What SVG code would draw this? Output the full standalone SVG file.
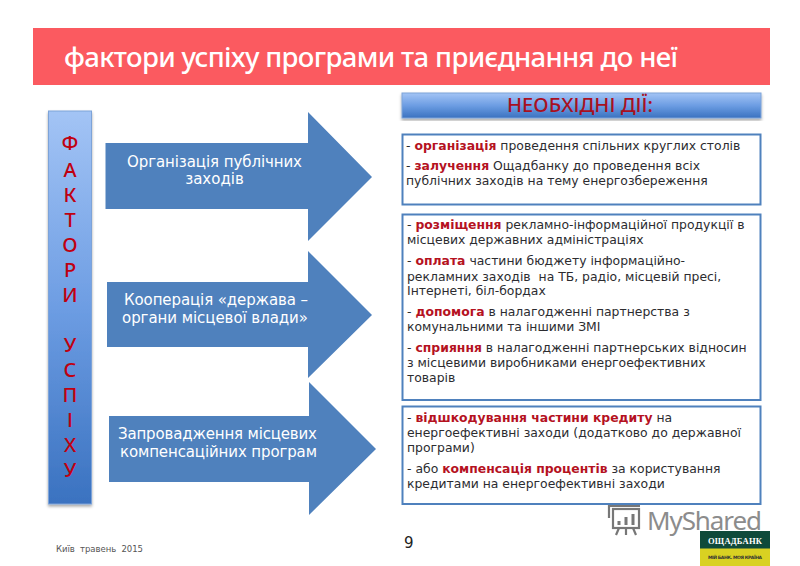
<svg xmlns="http://www.w3.org/2000/svg" width="800" height="566" viewBox="0 0 800 566">
<style>
text{font-family:"DejaVu Sans","Noto Sans",sans-serif;white-space:pre}
.b{font-size:12.4px;fill:#2c2c30}
.r{fill:#b5121f;font-weight:700}
.a{fill:#4f81bd}
.w{fill:#fff;text-anchor:middle}
.w15{font-size:15px}
.box{fill:#fff;stroke:#4f81bd;stroke-width:2}
.v{font-size:20px;font-weight:500;fill:#c00010;text-anchor:middle;font-family:"Noto Sans",sans-serif}
</style>
<defs>
<linearGradient id="g" x1="0" y1="0" x2="0" y2="1"><stop offset="0" stop-color="#a3c4f5"/><stop offset="0.5" stop-color="#6d9de3"/><stop offset="1" stop-color="#3a72c0"/></linearGradient>
<filter id="s" x="-10%" y="-10%" width="120%" height="120%"><feDropShadow dx="0" dy="2" stdDeviation="1.5" flood-color="#000" flood-opacity="0.35"/></filter>
</defs>
<rect width="800" height="566" fill="#fff"/>
<g id="title"><rect x="33" y="28" width="737" height="57" fill="#fb5a60"/>
<text x="64" y="67" font-size="27.5" font-weight="500" fill="#fff" textLength="614" style="font-family:'Noto Sans',sans-serif">фактори успіху програми та приєднання до неї</text></g>
<g id="header"><rect x="402" y="93" width="359" height="25" fill="url(#g)" stroke="#7da3d8" filter="url(#s)"/>
<text x="580" y="112" font-size="20" font-weight="500" fill="#a8101f" text-anchor="middle" textLength="146" style="font-family:'Noto Sans',sans-serif">НЕОБХІДНІ ДІЇ:</text></g>
<g id="factors"><rect x="48.5" y="111" width="43" height="393" fill="url(#g)" stroke="#7da3d8" filter="url(#s)"/>
<text class="v" x="70" y="150">Ф</text><text class="v" x="70" y="177">А</text><text class="v" x="70" y="202">К</text><text class="v" x="70" y="227">Т</text><text class="v" x="70" y="252">О</text><text class="v" x="70" y="277">Р</text><text class="v" x="70" y="302">И</text>
<text class="v" x="70" y="352">У</text><text class="v" x="70" y="377">С</text><text class="v" x="70" y="402">П</text><text class="v" x="70" y="427">І</text><text class="v" x="70" y="452">Х</text><text class="v" x="70" y="477">У</text></g>
<g id="connectors">
<path class="a" d="M105.5 143H308V112L372 177L308 241V209H105.5Z"/>
<path class="a" d="M107 282H308V251L372 315L308 378V347H107Z"/>
<path class="a" d="M109 416H309V382L376 449L309 515V482H109Z"/>
</g>
<g id="arrow1"><text class="w w15" x="214.5" y="167" textLength="175">Організація публічних</text><text class="w w15" x="214.5" y="184">заходів</text></g>
<g id="arrow2"><text class="w w15" x="216" y="305" textLength="184">Кооперація «держава –</text><text class="w w15" x="215" y="323" textLength="186">органи місцевої влади»</text></g>
<g id="arrow3"><text class="w w15" x="217.5" y="439" textLength="199">Запровадження місцевих</text><text class="w w15" x="218.5" y="457" textLength="197">компенсаційних програм</text></g>
<g id="box1"><rect class="box" x="402.5" y="134.5" width="358" height="70"/>
<text class="b" x="406" y="150">- <tspan class="r">організація</tspan> проведення спільних круглих столів</text>
<text class="b" x="406" y="170">- <tspan class="r">залучення</tspan> Ощадбанку до проведення всіх</text>
<text class="b" x="406" y="185">публічних заходів на тему енергозбереження</text></g>
<g id="box2"><rect class="box" x="402.5" y="214.5" width="358" height="185.5"/>
<text class="b" x="407" y="229">- <tspan class="r">розміщення</tspan> рекламно-інформаційної продукції в</text>
<text class="b" x="407" y="244">місцевих державних адміністраціях</text>
<text class="b" x="407" y="265">- <tspan class="r">оплата</tspan> частини бюджету інформаційно-</text>
<text class="b" x="407" y="281">рекламних заходів  на ТБ, радіо, місцевій пресі,</text>
<text class="b" x="407" y="295">Інтернеті, біл-бордах</text>
<text class="b" x="407" y="316">- <tspan class="r">допомога</tspan> в налагодженні партнерства з</text>
<text class="b" x="407" y="331">комунальними та іншими ЗМІ</text>
<text class="b" x="407" y="352">- <tspan class="r">сприяння</tspan> в налагодженні партнерських відносин</text>
<text class="b" x="407" y="367">з місцевими виробниками енергоефективних</text>
<text class="b" x="407" y="382">товарів</text></g>
<g id="box3"><rect class="box" x="402.5" y="406.5" width="358" height="97.5"/>
<text class="b" x="407" y="422">- <tspan class="r">відшкодування частини кредиту</tspan> на</text>
<text class="b" x="407" y="437">енергоефективні заходи (додатково до державної</text>
<text class="b" x="407" y="452">програми)</text>
<text class="b" x="407" y="473">- або <tspan class="r">компенсація процентів</tspan> за користування</text>
<text class="b" x="407" y="488">кредитами на енергоефективні заходи</text></g>
<text x="56" y="552" font-size="8.5" fill="#555" textLength="87">Київ  травень  2015</text>
<text x="404" y="548" font-size="15" fill="#222">9</text>
<g id="watermark" fill="none" stroke="#777" stroke-width="2.2">
<rect x="613" y="509" width="26" height="19"/><path d="M609 518V506H640M619 528l-3 7M626 528v7M633 528l3 7"/>
<path d="M619 525v-4M626 525v-8M633 525v-11" stroke-width="3"/>
<text x="647" y="530" font-size="26" fill="#8c8c8c" stroke="none" style="font-family:'Noto Sans',sans-serif" textLength="115">MyShared</text></g>
<g id="logo"><rect x="700" y="531" width="70" height="35" fill="#d9d122"/><rect x="700" y="531" width="70" height="17.5" fill="#0f4a3a"/>
<text x="735" y="543.5" font-size="8.5" font-weight="700" fill="#fff" text-anchor="middle" textLength="54" style="font-family:'Liberation Serif',serif">ОЩАДБАНК</text>
<text x="735" y="558.5" font-size="4.5" font-weight="700" fill="#333" text-anchor="middle" textLength="54">МІЙ БАНК. МОЯ КРАЇНА</text></g>
</svg>
